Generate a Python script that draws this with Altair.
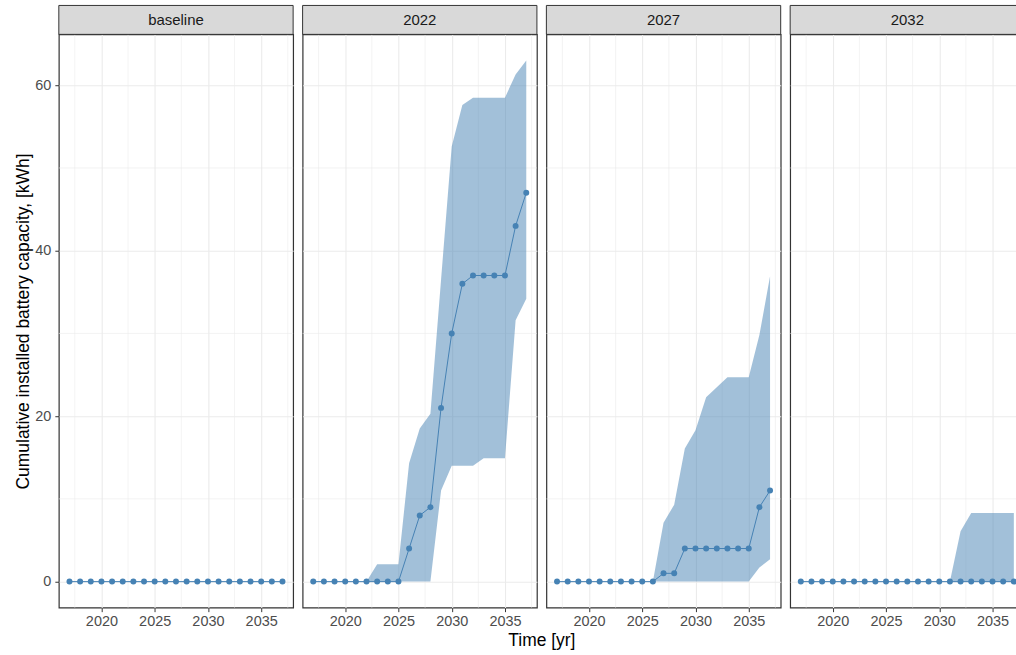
import altair as alt
import pandas as pd

# Simulation years and scenario labels
years = list(range(2017, 2038))
scenarios = ["baseline", "2022", "2027", "2032"]

# Median cumulative battery capacity [kWh] with lower / upper band per scenario
baseline_mean = [0] * 21
baseline_low = [0] * 21
baseline_high = [0] * 21

s2022_mean = [0, 0, 0, 0, 0, 0, 0, 0, 0, 4, 8, 9, 21, 30, 36, 37, 37, 37, 37, 43, 47]
s2022_low = [0] * 12 + [11, 14, 14, 14, 14.9, 14.9, 14.9, 31.6, 34.2]
s2022_high = [0, 0, 0, 0, 0, 0, 2.1, 2.1, 2.1, 14.3, 18.5, 20.3, 36.5, 52.6,
              57.6, 58.5, 58.5, 58.5, 58.5, 61.3, 63.0]

s2027_mean = [0] * 10 + [1, 1, 4, 4, 4, 4, 4, 4, 4, 9, 11]
s2027_low = [0] * 19 + [1.7, 2.7]
s2027_high = [0] * 10 + [7.1, 9.3, 16.1, 18.3, 22.3, 23.5, 24.7, 24.7, 24.7, 29.8, 36.9]

s2032_mean = [0] * 21
s2032_low = [0] * 21
s2032_high = [0] * 15 + [6.1, 8.3, 8.3, 8.3, 8.3, 8.3]

series = {
    "baseline": (baseline_mean, baseline_low, baseline_high),
    "2022": (s2022_mean, s2022_low, s2022_high),
    "2027": (s2027_mean, s2027_low, s2027_high),
    "2032": (s2032_mean, s2032_low, s2032_high),
}

x_major = [2020, 2025, 2030, 2035]
x_minor = [2017.5, 2022.5, 2027.5, 2032.5, 2037.5]
y_major = [0, 20, 40, 60]
y_minor = [10, 30, 50]

FONT = "Liberation Sans"
BLUE = "#4682B4"
GRID = "#EBEBEB"
W, H = 235, 575
STRIP = 29

x_scale = alt.Scale(domain=[2016, 2038], nice=False, zero=False)
y_scale = alt.Scale(domain=[-3.15, 66.15], nice=False, zero=False)


def x_axis():
    return alt.Axis(values=x_major, format="d", title=None, grid=True,
                    gridColor=GRID, gridWidth=1.1, domain=False,
                    tickColor="#333333", tickSize=4, tickWidth=1,
                    labelColor="#4D4D4D", labelFontSize=14.5, labelFont=FONT,
                    labelPadding=3, labelFlush=False)


def y_axis(first):
    if first:
        return alt.Axis(values=y_major, title="Cumulative installed battery capacity, [kWh]",
                        grid=True, gridColor=GRID, gridWidth=1.1, domain=False,
                        tickColor="#333333", tickSize=4, tickWidth=1,
                        labelColor="#4D4D4D", labelFontSize=14.5, labelFont=FONT,
                        labelPadding=4, titleFont=FONT, titleFontSize=17.5,
                        titleFontWeight="normal", titleColor="black", titlePadding=2)
    return alt.Axis(values=y_major, title=None, grid=True, gridColor=GRID,
                    gridWidth=1.1, domain=False, ticks=False, labels=False,
                    minExtent=0)


def panel(name, first):
    mean, low, high = series[name]
    df = pd.DataFrame({"year": years, "mean": mean, "low": low, "high": high})
    base = alt.Chart(df)
    x = alt.X("year:Q", scale=x_scale, axis=x_axis())

    minor_v = alt.Chart(pd.DataFrame({"year": x_minor})).mark_rule(
        color=GRID, strokeWidth=0.6
    ).encode(x=x)
    minor_h = alt.Chart(pd.DataFrame({"mean": y_minor})).mark_rule(
        color=GRID, strokeWidth=0.6
    ).encode(y=alt.Y("mean:Q", scale=y_scale, axis=y_axis(first)))

    band = base.mark_area(color=BLUE, opacity=0.5).encode(
        x=x,
        y=alt.Y("low:Q", scale=y_scale, axis=y_axis(first)),
        y2="high:Q",
    )
    line = base.mark_line(color=BLUE, strokeWidth=1).encode(
        x=x, y=alt.Y("mean:Q", scale=y_scale, axis=y_axis(first))
    )
    pts = base.mark_circle(color=BLUE, size=36, opacity=1).encode(
        x=x, y=alt.Y("mean:Q", scale=y_scale, axis=y_axis(first))
    )

    strip_df = pd.DataFrame({"label": [name]})
    strip = alt.Chart(strip_df).mark_rect(
        fill="#D9D9D9", stroke="#333333", strokeWidth=1
    ).encode(x=alt.value(0), x2=alt.value(W), y=alt.value(-STRIP), y2=alt.value(0))
    strip_text = alt.Chart(strip_df).mark_text(
        font=FONT, fontSize=15, color="#1A1A1A", baseline="middle", align="center"
    ).encode(x=alt.value(W / 2), y=alt.value(-STRIP / 2), text="label:N")

    return alt.layer(minor_v, minor_h, band, line, pts, strip, strip_text).properties(
        width=W, height=H
    )


panels = [panel(name, i == 0) for i, name in enumerate(scenarios)]

# The right-hand panel runs past the page edge, so the right padding is negative
chart = alt.hconcat(*panels, spacing=9.5, bounds="flush").properties(
    padding={"left": 14, "top": 2.5, "right": -10, "bottom": 2},
    title=alt.TitleParams("Time [yr]", orient="bottom", anchor="middle",
                          font=FONT, fontSize=17.5, fontWeight="normal",
                          color="black", offset=3, dx=22),
).configure_view(stroke="#333333", strokeWidth=1.2)

chart.save("out.html", embed_options={"renderer": "svg", "actions": False})
